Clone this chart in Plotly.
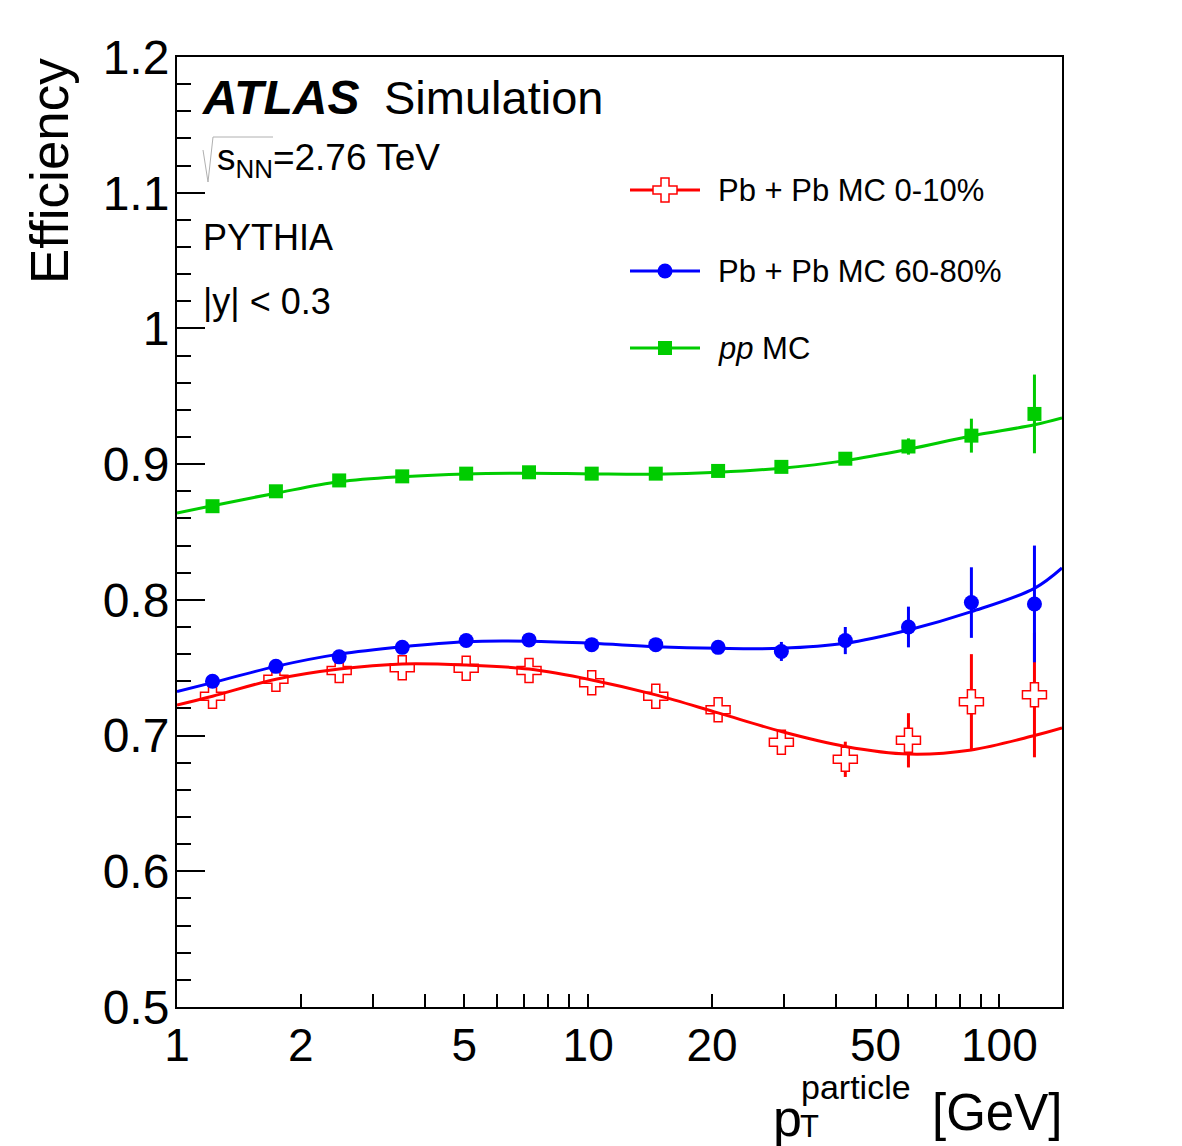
import plotly.graph_objects as go

# ---------------- data ----------------
pt = [1.22, 1.74, 2.48, 3.53, 5.05, 7.18, 10.2, 14.6, 20.7, 29.5, 42.2, 60.1, 85.5, 121.7]

eff_central = [0.729, 0.7415, 0.748, 0.750, 0.7496, 0.748, 0.739, 0.729, 0.719,
               0.695, 0.6825, 0.6965, 0.725, 0.730]
err_central = [0.003, 0.003, 0.003, 0.003, 0.003, 0.003, 0.003, 0.003, 0.004,
               0.009, 0.013, 0.020, 0.035, 0.046]

eff_periph = [0.740, 0.751, 0.758, 0.765, 0.770, 0.7705, 0.767, 0.767, 0.765,
              0.762, 0.770, 0.780, 0.798, 0.797]
err_periph = [0.002, 0.002, 0.002, 0.002, 0.002, 0.002, 0.002, 0.002, 0.002,
              0.007, 0.010, 0.015, 0.026, 0.043]

eff_pp = [0.869, 0.880, 0.888, 0.891, 0.893, 0.894, 0.893, 0.893, 0.895,
          0.898, 0.904, 0.913, 0.921, 0.937]
err_pp = [0.001, 0.001, 0.001, 0.001, 0.001, 0.001, 0.001, 0.001, 0.001,
          0.002, 0.003, 0.006, 0.0125, 0.029]

# fitted curves, read at the bin centres plus the axis ends
fit_x = [1.0, 1.22, 1.74, 2.48, 3.53, 5.05, 7.18, 10.2, 14.6, 20.7, 29.5, 42.2,
         60.1, 85.5, 121.7, 142.0]
fit_central = [0.7225, 0.729, 0.7415, 0.749, 0.7528, 0.752, 0.749, 0.741, 0.730,
               0.7167, 0.703, 0.692, 0.6864, 0.6894, 0.700, 0.7056]
fit_periph = [0.7324, 0.739, 0.751, 0.760, 0.7655, 0.7692, 0.7695, 0.768, 0.7655,
              0.7643, 0.7643, 0.768, 0.7778, 0.7913, 0.8085, 0.8235]
fit_pp = [0.864, 0.8694, 0.8786, 0.887, 0.8908, 0.8928, 0.8933, 0.8928, 0.8926,
          0.894, 0.897, 0.9026, 0.911, 0.9208, 0.929, 0.934]

labels = ["Pb + Pb MC 0-10%", "Pb + Pb MC 60-80%", "<i>pp</i> MC"]
x_tick_vals = [1, 2, 5, 10, 20, 50, 100]
x_tick_text = ["1", "2", "5", "10", "20", "50", "100"]
x_minor_vals = [3, 4, 6, 7, 8, 9, 30, 40, 60, 70, 80, 90]
x_major_long = [10, 100]

RED = "#ff0000"
BLUE = "#0000ff"
GREEN = "#00cc00"
FONT = "Liberation Sans, Arial, Helvetica, sans-serif"

W, H = 1182, 1146
L, R, T, B = 177, 120, 57, 139
PW, PH = W - L - R, H - T - B


def px(xp):
    return (xp - L) / PW


def py(yp):
    return (H - B - yp) / PH


fig = go.Figure()

# data points
series = [
    (eff_central, err_central, RED, dict(symbol="cross", size=20, color="white",
                                         line=dict(color=RED, width=1.5))),
    (eff_periph, err_periph, BLUE, dict(symbol="circle", size=15, color=BLUE)),
    (eff_pp, err_pp, GREEN, dict(symbol="square", size=14, color=GREEN)),
]
for vals, errs, col, mk in series:
    fig.add_trace(go.Scatter(
        x=pt, y=vals, mode="markers", marker=mk,
        error_y=dict(type="data", array=errs, visible=True, color=col,
                     thickness=3, width=0),
        showlegend=False, cliponaxis=True))

# fit curves
for fy, col in [(fit_central, RED), (fit_periph, BLUE), (fit_pp, GREEN)]:
    fig.add_trace(go.Scatter(x=fit_x, y=fy, mode="lines",
                             line=dict(color=col, width=3, shape="spline", smoothing=1.0),
                             showlegend=False))

# legend samples on an overlay unit axis
leg_y = [py(190), py(271), py(348)]
leg_mk = [series[0][3], series[1][3], series[2][3]]
leg_col = [RED, BLUE, GREEN]
for yy, col, mk in zip(leg_y, leg_col, leg_mk):
    fig.add_trace(go.Scatter(x=[px(630), px(700)], y=[yy, yy], mode="lines",
                             line=dict(color=col, width=3), xaxis="x2", yaxis="y2",
                             showlegend=False))
    fig.add_trace(go.Scatter(x=[px(665)], y=[yy], mode="markers", marker=mk,
                             xaxis="x2", yaxis="y2", showlegend=False))

ann = []
for yy, lab in zip(leg_y, labels):
    ann.append(dict(x=px(716), y=yy, xref="paper", yref="paper", text=lab,
                    showarrow=False, xanchor="left", yanchor="middle",
                    font=dict(family=FONT, size=31, color="black")))

ann += [
    dict(x=px(200), y=py(97), text="<b><i>ATLAS</i></b>", font=dict(size=48)),
    dict(x=px(382), y=py(97), text="Simulation", font=dict(size=47)),
    dict(x=px(215), y=py(160), text="s<sub>NN</sub>=2.76 TeV", font=dict(size=37)),
    dict(x=px(201), y=py(238), text="PYTHIA", font=dict(size=36)),
    dict(x=px(201), y=py(301), text="|y| &lt; 0.3", font=dict(size=36)),
    # y title
    dict(x=px(50), y=py(56), text="Efficiency", textangle=-90, xanchor="center",
         yanchor="top", font=dict(size=53)),
    # x title pieces
    dict(x=px(771), y=py(1118), text="p", font=dict(size=52)),
    dict(x=px(799), y=py(1087), text="particle", font=dict(size=34)),
    dict(x=px(798), y=py(1146), text="T", yanchor="bottom", font=dict(size=31)),
    dict(x=px(1064), y=py(1112), text="[GeV]", xanchor="right", font=dict(size=51)),
]
for a in ann:
    a.setdefault("xref", "paper")
    a.setdefault("yref", "paper")
    a.setdefault("showarrow", False)
    a.setdefault("xanchor", "left")
    a.setdefault("yanchor", "middle")
    f = a["font"]
    f.setdefault("family", FONT)
    f.setdefault("color", "black")

# square-root sign drawn as a thin grey path
shapes = [dict(type="path", xref="paper", yref="paper",
               path=f"M {px(203)},{py(150)} L {px(208)},{py(182)} L {px(213)},{py(137)} L {px(273)},{py(137)}",
               line=dict(color="#b0b0b0", width=1))]

fig.update_layout(
    width=W, height=H,
    margin=dict(l=L, r=R, t=T, b=B),
    paper_bgcolor="white", plot_bgcolor="white",
    font=dict(family=FONT, color="black"),
    xaxis=dict(type="log", range=[0, 2.1523], tickmode="array",
               tickvals=x_tick_vals, ticktext=x_tick_text,
               ticks="inside", ticklen=13, tickwidth=2, tickcolor="black",
               minor=dict(tickmode="array", tickvals=x_minor_vals, ticks="inside",
                          ticklen=13, tickwidth=2, tickcolor="black", showgrid=False),
               showline=True, linecolor="black", linewidth=2, mirror=True,
               showgrid=False, zeroline=False,
               tickfont=dict(size=46, family=FONT), ticklabelstandoff=-3),
    xaxis3=dict(type="log", range=[0, 2.1523], overlaying="x", anchor="y",
                tickmode="array", tickvals=x_major_long, ticks="inside",
                ticklen=25, tickwidth=2, tickcolor="black", showticklabels=False,
                showline=False, showgrid=False, zeroline=False),
    yaxis=dict(range=[0.5, 1.2], tickmode="array",
               tickvals=[0.5, 0.6, 0.7, 0.8, 0.9, 1.0, 1.1, 1.2],
               ticktext=["0.5", "0.6", "0.7", "0.8", "0.9", "1", "1.1", "1.2"],
               ticks="inside", ticklen=28, tickwidth=2, tickcolor="black",
               minor=dict(dtick=0.02, tick0=0.5, ticks="inside", ticklen=14,
                          tickwidth=2, tickcolor="black", showgrid=False),
               showline=True, linecolor="black", linewidth=2, mirror=True,
               showgrid=False, zeroline=False,
               tickfont=dict(size=48, family=FONT), ticklabelstandoff=-4),
    xaxis2=dict(range=[0, 1], overlaying="x", visible=False, anchor="y2"),
    yaxis2=dict(range=[0, 1], overlaying="y", visible=False, anchor="x2"),
    annotations=ann,
    shapes=shapes,
    showlegend=False,
)

fig.write_html("out.html")
